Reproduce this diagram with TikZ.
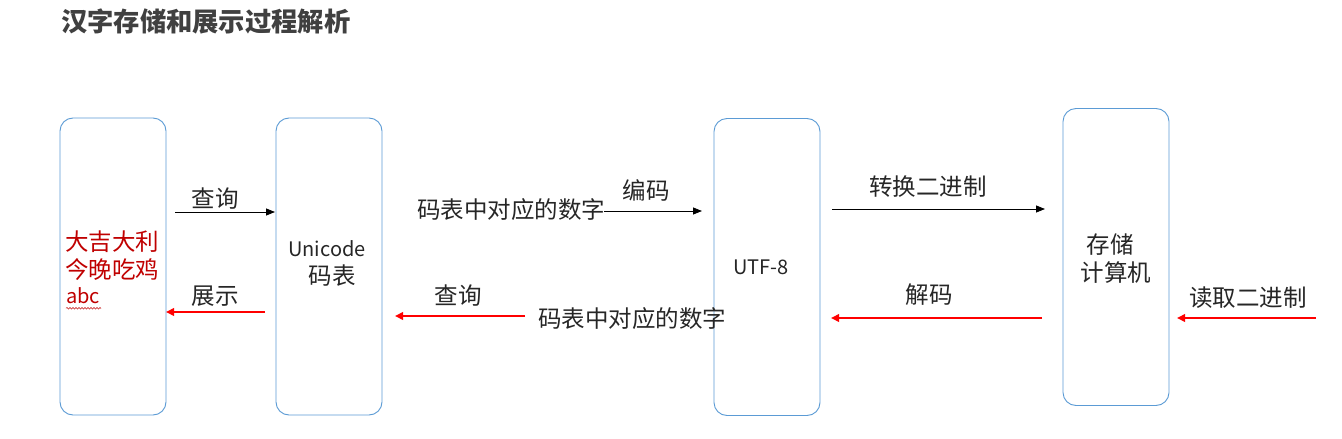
\documentclass[tikz,border=0pt]{standalone}
\usepackage{fontspec}
\setmainfont{Noto Sans CJK SC}
\usetikzlibrary{arrows.meta,decorations.pathmorphing}
\definecolor{boxblue}{HTML}{5B9BD5}
\definecolor{darkred}{HTML}{C00000}
\definecolor{titlegray}{HTML}{404040}
\definecolor{txt}{HTML}{262626}
\definecolor{arrred}{HTML}{FF0000}
\begin{document}
\begin{tikzpicture}[x=1pt,y=-1pt,
  box/.style={draw=boxblue,line width=0.9pt,rounded corners=13pt,minimum width=106pt,minimum height=297pt,inner sep=0pt},
  lbl/.style={font=\fontsize{23.5}{28}\selectfont,text=txt,inner sep=0pt},
  latin/.style={font=\fontsize{20}{24}\selectfont,text=txt,inner sep=0pt},
  blkarrow/.style={-{Triangle[length=9pt,width=7pt]},line width=0.8pt,black},
  redarrow/.style={-{Triangle[length=8pt,width=7.5pt]},line width=2pt,arrred},
]
\useasboundingbox (0,0) rectangle (1342,439);
\fill[white] (0,0) rectangle (1342,439);

% title
\node[anchor=west,inner sep=0pt,text=titlegray,font=\fontsize{26.3}{30}\selectfont\bfseries] (title) at (61,22) {汉字存储和展示过程解析};

% boxes
\node[box] (b1) at (113,266.5) {};
\node[box] (b2) at (329,266.5) {};
\node[box] (b3) at (767,267) {};
\node[box] (b4) at (1116,257) {};

% box texts
\node[lbl,text=darkred,anchor=west] (r1) at (65,242) {大吉大利};
\node[lbl,text=darkred,anchor=west] (r2) at (65,270) {今晚吃鸡};
\node[latin,text=darkred,anchor=west] (r3) at (66,296) {abc};
\draw[darkred,line width=0.5pt,decorate,decoration={snake,amplitude=0.8pt,segment length=3pt}] (r3.south west) ++(0,4) -- ++(35,0);
\node[latin] (u1) at (327,249) {Unicode};
\node[lbl] (u2) at (332,276) {码表};
\node[latin] (utf) at (761,267) {UTF-8};
\node[lbl] (s1) at (1110,245) {存储};
\node[lbl] (s2) at (1116,273) {计算机};

% labels
\node[lbl] (l1) at (215,199) {查询};
\node[lbl] (l2) at (215,296) {展示};
\node[lbl] (l3) at (511,210) {码表中对应的数字};
\node[lbl] (l4) at (646,190) {编码};
\node[lbl] (l5) at (458,296) {查询};
\node[lbl] (l6) at (632,319) {码表中对应的数字};
\node[lbl] (l7) at (928,187) {转换二进制};
\node[lbl] (l8) at (929,295) {解码};
\node[lbl] (l9) at (1248,298) {读取二进制};

% arrow endpoints
\coordinate (a1s) at (175,212); \coordinate (a1e) at (275,212);
\coordinate (a2s) at (265,312); \coordinate (a2e) at (166,312);
\coordinate (a3s) at (604,211); \coordinate (a3e) at (702,211);
\coordinate (a4s) at (525,316); \coordinate (a4e) at (395,316);
\coordinate (a5s) at (832,209); \coordinate (a5e) at (1045,209);
\coordinate (a6s) at (1042,318); \coordinate (a6e) at (831,318);
\coordinate (a7s) at (1316,318); \coordinate (a7e) at (1177,318);

\draw[blkarrow] (a1s) -- (a1e);
\draw[redarrow] (a2s) -- (a2e);
\draw[blkarrow] (a3s) -- (a3e);
\draw[redarrow] (a4s) -- (a4e);
\draw[blkarrow] (a5s) -- (a5e);
\draw[redarrow] (a6s) -- (a6e);
\draw[redarrow] (a7s) -- (a7e);
\end{tikzpicture}
\end{document}
